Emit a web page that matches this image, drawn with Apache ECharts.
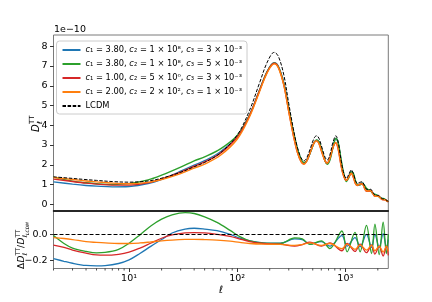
<!DOCTYPE html>
<html><head><meta charset="utf-8">
<script src="https://cdn.jsdelivr.net/npm/echarts@6/dist/echarts.min.js"></script>
<style>html,body{margin:0;padding:0;background:#fff}#c{width:432px;height:302px}</style>
</head><body><div id="c"></div>
<script>
// ---- data (D_ell^TT in units of 1e-10) ----
const ellTT = [2, 3, 4, 5, 7, 10, 15, 20, 30, 40, 50, 70, 100, 130, 160, 190, 220, 240, 270, 300, 330, 360, 390, 414, 440, 480, 515, 542, 570, 610, 650, 681, 720, 770, 818, 860, 910, 960, 1022, 1080, 1137, 1190, 1240, 1291, 1360, 1436, 1500, 1560, 1640, 1720, 1800, 1870, 1950, 2030, 2120, 2200, 2280, 2360, 2440, 2500];
const lcdmTT = [1.39, 1.31, 1.25, 1.21, 1.15, 1.12, 1.18, 1.32, 1.62, 1.90, 2.12, 2.60, 3.50, 4.75, 6.10, 7.20, 7.69, 7.50, 6.55, 5.10, 3.85, 2.90, 2.35, 2.20, 2.35, 2.90, 3.35, 3.47, 3.35, 2.85, 2.38, 2.24, 2.50, 3.15, 3.47, 3.15, 2.30, 1.65, 1.31, 1.52, 1.74, 1.55, 1.20, 1.07, 1.11, 1.14, 0.95, 0.78, 0.74, 0.76, 0.60, 0.48, 0.46, 0.45, 0.35, 0.28, 0.27, 0.24, 0.18, 0.15];
const blueTT = [1.133, 1.022, 0.954, 0.920, 0.883, 0.902, 1.050, 1.267, 1.672, 1.987, 2.205, 2.662, 3.423, 4.513, 5.734, 6.732, 7.17, 6.99, 6.16, 4.86, 3.71, 2.80, 2.26, 2.09, 2.20, 2.69, 3.12, 3.25, 3.16, 2.69, 2.21, 2.06, 2.28, 2.93, 3.33, 3.09, 2.28, 1.60, 1.20, 1.41, 1.66, 1.51, 1.17, 1.01, 1.00, 1.08, 0.94, 0.78, 0.70, 0.69, 0.56, 0.48, 0.45, 0.41, 0.33, 0.28, 0.27, 0.22, 0.16, 0.144];
const greenTT = [1.376, 1.172, 1.088, 1.039, 1.003, 1.044, 1.233, 1.472, 1.879, 2.200, 2.400, 2.803, 3.483, 4.513, 5.734, 6.725, 7.15, 6.975, 6.12, 4.85, 3.73, 2.83, 2.28, 2.11, 2.21, 2.68, 3.12, 3.26, 3.17, 2.71, 2.19, 2.03, 2.23, 2.87, 3.33, 3.12, 2.35, 1.65, 1.15, 1.35, 1.64, 1.55, 1.21, 1.00, 0.97, 1.07, 0.98, 0.83, 0.74, 0.67, 0.55, 0.51, 0.47, 0.40, 0.32, 0.30, 0.29, 0.22, 0.16, 0.145];
const redTT = [1.276, 1.153, 1.071, 1.020, 0.971, 0.968, 1.089, 1.280, 1.630, 1.925, 2.141, 2.592, 3.395, 4.489, 5.716, 6.710, 7.14, 6.95, 6.05, 4.69, 3.52, 2.64, 2.16, 2.04, 2.19, 2.72, 3.12, 3.21, 3.08, 2.60, 2.20, 2.09, 2.34, 2.88, 3.11, 2.78, 2.01, 1.47, 1.21, 1.40, 1.55, 1.35, 1.05, 0.95, 1.02, 1.03, 0.83, 0.67, 0.66, 0.70, 0.54, 0.41, 0.40, 0.41, 0.31, 0.235, 0.23, 0.216, 0.158, 0.126];
const orangeTT = [1.355, 1.258, 1.180, 1.135, 1.072, 1.042, 1.109, 1.254, 1.555, 1.828, 2.035, 2.480, 3.290, 4.418, 5.661, 6.667, 7.11, 6.92, 6.03, 4.69, 3.53, 2.65, 2.16, 2.03, 2.18, 2.71, 3.11, 3.21, 3.08, 2.61, 2.20, 2.08, 2.33, 2.89, 3.13, 2.82, 2.05, 1.49, 1.21, 1.40, 1.57, 1.37, 1.06, 0.96, 1.02, 1.03, 0.85, 0.69, 0.67, 0.69, 0.54, 0.42, 0.41, 0.41, 0.31, 0.243, 0.236, 0.217, 0.16, 0.13];

// ---- relative difference ΔD/D_LCDM ----
const ellRes = [2, 2.5, 3, 4, 5, 6, 8, 10, 12.6, 16, 20, 25, 33, 40, 50, 65, 86, 106, 131, 175, 250, 340, 400, 470, 600, 720, 930, 1040, 1230, 1370, 1570, 1750, 1880, 2060, 2240, 2400, 2500];
const blueRes = [-0.185, -0.205, -0.22, -0.237, -0.24, -0.238, -0.222, -0.195, -0.146, -0.09, -0.04, 0.01, 0.04, 0.046, 0.04, 0.028, 0.0, -0.03, -0.05, -0.065, -0.068, -0.035, -0.04, -0.075, -0.055, -0.09, -0.01, -0.09, -0.025, -0.095, 0.0, -0.1, 0.0, -0.1, 0.005, -0.095, -0.04];
const greenRes = [-0.01, -0.07, -0.105, -0.13, -0.141, -0.138, -0.115, -0.068, -0.005, 0.065, 0.115, 0.148, 0.164, 0.158, 0.132, 0.09, 0.03, -0.018, -0.05, -0.068, -0.07, -0.028, -0.035, -0.077, -0.05, -0.108, 0.025, -0.133, 0.015, -0.133, 0.067, -0.146, 0.077, -0.154, 0.092, -0.146, 0.0];
const redRes = [-0.082, -0.1, -0.12, -0.143, -0.157, -0.159, -0.152, -0.136, -0.105, -0.066, -0.03, -0.005, 0.01, 0.013, 0.01, 0.0, -0.015, -0.036, -0.055, -0.07, -0.075, -0.09, -0.078, -0.06, -0.09, -0.065, -0.125, -0.07, -0.13, -0.075, -0.14, -0.08, -0.15, -0.09, -0.165, -0.09, -0.16];
const orangeRes = [-0.025, -0.032, -0.04, -0.056, -0.062, -0.066, -0.07, -0.07, -0.066, -0.058, -0.05, -0.044, -0.039, -0.038, -0.04, -0.044, -0.052, -0.062, -0.07, -0.075, -0.077, -0.085, -0.078, -0.065, -0.085, -0.07, -0.11, -0.075, -0.115, -0.08, -0.12, -0.085, -0.125, -0.09, -0.135, -0.09, -0.13];

// ---- ticks and labels ----
const ttTicks = [0, 1, 2, 3, 4, 5, 6, 7, 8];
const resTicks = [-0.2, 0.0];
const ellTicks = [10, 100, 1000];
const ellTickLabels = ['10¹', '10²', '10³'];
const ellMinorTicks = [2, 3, 4, 5, 6, 7, 8, 9, 20, 30, 40, 50, 60, 70, 80, 90, 200, 300, 400, 500, 600, 700, 800, 900, 2000];
const seriesNames = [
  'c₁ = 3.80, c₂ = 1 × 10⁸, c₃ = 3 × 10⁻³',
  'c₁ = 3.80, c₂ = 1 × 10⁸, c₃ = 5 × 10⁻³',
  'c₁ = 1.00, c₂ = 5 × 10⁰, c₃ = 3 × 10⁻³',
  'c₁ = 2.00, c₂ = 2 × 10², c₃ = 1 × 10⁻³',
  'LCDM'
];
const colors = ['#1f77b4', '#2ca02c', '#d62728', '#ff7f0e'];

const FONT = '"DejaVu Sans", sans-serif';
const ttYMin = -0.34, ttYMax = 8.57, resYMin = -0.26, resYMax = 0.177;

const pair = (xs, ys) => xs.map((x, i) => [x, ys[i]]);
const modelsTT = [blueTT, greenTT, redTT, orangeTT];
const modelsRes = [blueRes, greenRes, redRes, orangeRes];

const series = [];
modelsTT.forEach((arr, i) => series.push({
  name: seriesNames[i], type: 'line', xAxisIndex: 0, yAxisIndex: 0,
  data: pair(ellTT, arr), symbol: 'none', smooth: 0.35,
  lineStyle: { color: colors[i], width: 1.4 }, itemStyle: { color: colors[i] }, z: 2 + i
}));
series.push({
  name: 'LCDM', type: 'line', xAxisIndex: 0, yAxisIndex: 0,
  data: pair(ellTT, lcdmTT), symbol: 'none', smooth: 0.35,
  lineStyle: { color: '#000', width: 1, type: [3.5, 1.6] }, itemStyle: { color: '#000' }, z: 10
});
modelsRes.forEach((arr, i) => series.push({
  name: 'res' + i, type: 'line', xAxisIndex: 1, yAxisIndex: 1,
  data: pair(ellRes, arr), symbol: 'none', smooth: 0.35,
  lineStyle: { color: colors[i], width: 1.3 }, z: 2 + i,
  markLine: i === 0 ? {
    silent: true, symbol: 'none', label: { show: false },
    lineStyle: { color: '#000', width: 1.2, type: [4, 2] },
    data: [{ yAxis: 0 }], z: 10
  } : undefined
}));
series.push({
  type: 'custom', xAxisIndex: 1, yAxisIndex: 1, silent: true, clip: false,
  data: ellMinorTicks.map(v => [v]),
  encode: { x: 0 },
  renderItem: (params, api) => {
    const p = api.coord([api.value(0), resYMin]);
    return { type: 'line', shape: { x1: p[0], y1: p[1], x2: p[0], y2: p[1] + 2 },
      style: { stroke: '#000', lineWidth: 0.7 } };
  }
});

const chart = echarts.init(document.getElementById('c'), null, { renderer: 'canvas' });
const small = 7;
const T = (text, x, y, font) => ({ type: 'text', x, y, style: { text, font: font + ' ' + FONT, fill: '#000', verticalAlign: 'middle' } });
chart.setOption({
  animation: false,
  backgroundColor: '#fff',
  textStyle: { fontFamily: FONT },
  grid: [
    { left: 53.5, top: 35, width: 334.8, height: 176, show: true, borderColor: '#7a7a7a', borderWidth: 1 },
    { left: 53.5, top: 211, width: 334.8, height: 57.5, show: true, borderColor: '#7a7a7a', borderWidth: 1 }
  ],
  xAxis: [
    { type: 'log', logBase: 10, gridIndex: 0, min: 2, max: 2500, z: 20,
      axisLine: { show: true, onZero: false, lineStyle: { color: '#000', width: 1.5 } },
      axisTick: { show: false }, axisLabel: { show: false }, splitLine: { show: false } },
    { type: 'log', logBase: 10, gridIndex: 1, min: 2, max: 2500,
      axisLine: { show: false, onZero: false },
      axisTick: { show: true, length: 3.5, customValues: ellTicks, lineStyle: { color: '#000', width: 0.8 } },
      axisLabel: { show: true, customValues: ellTicks, margin: 5, fontSize: 9.5, color: '#000', fontFamily: FONT,
        formatter: v => ellTickLabels[ellTicks.indexOf(Math.round(v))] || '' },
      splitLine: { show: false },
      name: 'ℓ', nameLocation: 'middle', nameGap: 17,
      nameTextStyle: { fontSize: 10, fontStyle: 'italic', color: '#000', fontFamily: FONT } }
  ],
  yAxis: [
    { type: 'value', gridIndex: 0, min: ttYMin, max: ttYMax,
      axisLine: { show: false }, splitLine: { show: false },
      axisTick: { show: true, length: 3.5, customValues: ttTicks, lineStyle: { color: '#000', width: 0.8 } },
      axisLabel: { show: true, customValues: ttTicks, margin: 6, fontSize: 9.5, color: '#000', fontFamily: FONT,
        formatter: v => String(Math.round(v)) } },
    { type: 'value', gridIndex: 1, min: resYMin, max: resYMax,
      axisLine: { show: false }, splitLine: { show: false },
      axisTick: { show: true, length: 3.5, customValues: resTicks, lineStyle: { color: '#000', width: 0.8 } },
      axisLabel: { show: true, customValues: resTicks, margin: 6, fontSize: 9.5, color: '#000', fontFamily: FONT,
        formatter: v => v.toFixed(1).replace('-', '−') } }
  ],
  legend: {
    data: seriesNames, orient: 'vertical', left: 56.5, top: 41,
    itemWidth: 18, itemHeight: 10, itemGap: 4,
    padding: [4, 5, 3, 5],
    itemStyle: { opacity: 0, borderWidth: 0 },
    backgroundColor: 'rgba(255,255,255,0.8)', borderColor: '#cccccc', borderWidth: 1, borderRadius: 3,
    textStyle: { fontSize: 8.3, color: '#000', fontFamily: FONT, lineHeight: 10,
      rich: { i: { fontStyle: 'italic', fontSize: 8.3, fontFamily: FONT } } },
    formatter: name => name.replace(/c(?=[₁₂₃])/g, '{i|c}'),
    selectedMode: false
  },
  graphic: [
    { type: 'text', left: 54, top: 25, style: { text: '1e−10', font: '9.5px ' + FONT, fill: '#000' } },
    { type: 'group', x: 36, y: 124, rotation: Math.PI / 2, children: [
      T('D', -8, 0, 'italic 10px'),
      T('TT', 0, -4, small + 'px'),
      T('ℓ', 0, 4, 'italic ' + small + 'px')
    ] },
    { type: 'group', x: 22, y: 244, rotation: Math.PI / 2, children: [
      T('Δ', -25, 0, '9px'),
      T('D', -18.5, 0, 'italic 9px'),
      T('TT', -11.5, -4, '6.5px'),
      T('ℓ', -11.5, 3.5, 'italic 6.5px'),
      T('/', -4, 0, '9px'),
      T('D', -0.5, 0, 'italic 9px'),
      T('TT', 6.5, -4, '6.5px'),
      T('ℓ', 6.5, 3.5, 'italic 6.5px'),
      T('LCDM', 9, 5.5, 'italic 4.5px')
    ] }
  ],
  series: series
});
</script>
</body></html>
